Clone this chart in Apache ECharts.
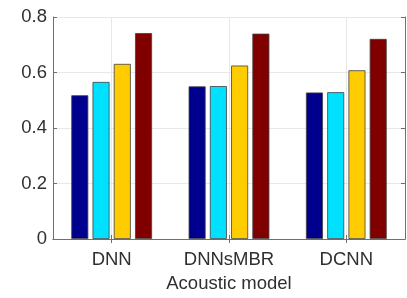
<!DOCTYPE html>
<html><head><meta charset="utf-8">
<script src="https://cdn.jsdelivr.net/npm/echarts@6/dist/echarts.min.js"></script>
<style>html,body{margin:0;padding:0;background:#fff}#c{width:407px;height:298px}</style>
</head><body><div id="c"></div>
<script>
const categories = ['DNN', 'DNNsMBR', 'DCNN'];
const series1 = [0.518, 0.550, 0.528];
const series2 = [0.566, 0.551, 0.529];
const series3 = [0.631, 0.625, 0.608];
const series4 = [0.742, 0.740, 0.721];
const yTicks = [0, 0.2, 0.4, 0.6, 0.8];
const colors = ['#00008F', '#00E1FF', '#FFCC00', '#800000'];

const chart = echarts.init(document.getElementById('c'), null, {renderer: 'canvas'});
const font = 'Liberation Sans, Arial, sans-serif';
const axisColor = '#707070';
const textColor = '#303030';
function bar(data, i) {
  return {
    type: 'bar', data: data, barWidth: 17, barGap: '25%',
    itemStyle: {color: colors[i], borderColor: '#404040', borderWidth: 0.8},
    xAxisIndex: 0, yAxisIndex: 0
  };
}
chart.setOption({
  animation: false,
  grid: {left: 53, right: 2, top: 17, bottom: 56, containLabel: false},
  xAxis: [{
    type: 'category', data: categories, position: 'bottom',
    name: 'Acoustic model', nameLocation: 'middle', nameGap: 35,
    nameTextStyle: {fontFamily: font, fontSize: 18.5, color: textColor},
    axisLine: {lineStyle: {color: axisColor, width: 1}},
    axisTick: {show: true, inside: true, alignWithLabel: true, length: 4, lineStyle: {color: axisColor}},
    axisLabel: {fontFamily: font, fontSize: 18.5, color: textColor, margin: 11, interval: 0, hideOverlap: false},
    splitLine: {show: true, alignWithLabel: true, lineStyle: {color: '#e8e8e8', width: 1}}
  }, {
    type: 'category', data: categories, position: 'top',
    axisLine: {show: true, lineStyle: {color: axisColor, width: 1}},
    axisTick: {show: true, inside: true, alignWithLabel: true, length: 4, lineStyle: {color: axisColor}},
    axisLabel: {show: false}, splitLine: {show: false}
  }],
  yAxis: [{
    type: 'value', min: 0, max: 0.8, interval: 0.2,
    axisLine: {show: true, lineStyle: {color: axisColor, width: 1}},
    axisTick: {show: true, inside: true, length: 4, lineStyle: {color: axisColor}},
    axisLabel: {fontFamily: font, fontSize: 18.5, color: textColor, margin: 6,
      formatter: v => { const t = yTicks.find(x => Math.abs(x - v) < 1e-9); return t === 0 ? '0' : String(t); }},
    splitLine: {show: true, lineStyle: {color: '#e8e8e8', width: 1}}
  }, {
    type: 'value', min: 0, max: 0.8, interval: 0.2, position: 'right',
    axisLine: {show: true, lineStyle: {color: axisColor, width: 1}},
    axisTick: {show: true, inside: true, length: 4, lineStyle: {color: axisColor}},
    axisLabel: {show: false}, splitLine: {show: false}
  }],
  series: [bar(series1, 0), bar(series2, 1), bar(series3, 2), bar(series4, 3)]
});
</script></body></html>
